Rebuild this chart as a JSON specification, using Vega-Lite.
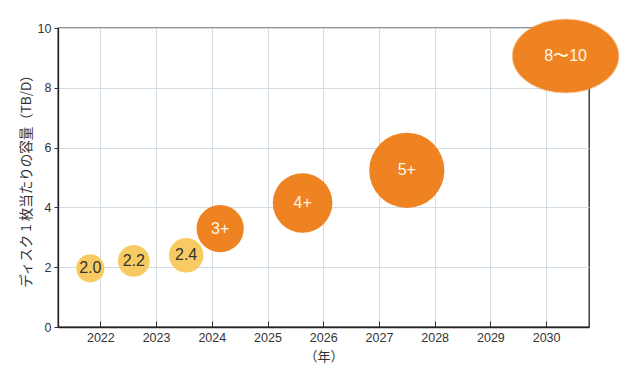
{
  "$schema": "https://vega.github.io/schema/vega-lite/v6.json",
  "autosize": "none",
  "width": 531,
  "height": 299,
  "padding": {"left": 58, "top": 28, "right": 49, "bottom": 59},
  "background": "white",
  "config": {
    "view": {"stroke": "#222", "strokeWidth": 1.3},
    "font": "Liberation Sans"
  },
  "data": {
    "values": [
      {"year": 2021.82, "capacity": 1.96, "label": "2.0", "phase": "current"},
      {"year": 2022.60, "capacity": 2.21, "label": "2.2", "phase": "current"},
      {"year": 2023.54, "capacity": 2.40, "label": "2.4", "phase": "current"},
      {"year": 2024.15, "capacity": 3.29, "label": "3+", "phase": "future"},
      {"year": 2025.63, "capacity": 4.15, "label": "4+", "phase": "future"},
      {"year": 2027.50, "capacity": 5.24, "label": "5+", "phase": "future"},
      {"year": 2030.35, "capacity": 9.06, "label": "8〜10", "phase": "range"}
    ]
  },
  "encoding": {
    "x": {
      "field": "year", "type": "quantitative",
      "scale": {"domain": [2021.24, 2030.77], "nice": false, "zero": false},
      "axis": {
        "values": [2022, 2023, 2024, 2025, 2026, 2027, 2028, 2029, 2030],
        "format": "d",
        "title": "（年）",
        "titleFont": "Noto Sans CJK JP",
        "titleFontWeight": "normal",
        "titleFontSize": 13,
        "titleColor": "#333",
        "titlePadding": 7,
        "labelFontSize": 12.5,
        "labelColor": "#333",
        "labelPadding": 10,
        "tickSize": -6,
        "tickColor": "#333",
        "domainColor": "#222",
        "domainWidth": 1.3,
        "gridColor": "#d3dbe3",
        "gridWidth": 1
      }
    },
    "y": {
      "field": "capacity", "type": "quantitative",
      "scale": {"domain": [0, 10], "nice": false},
      "axis": {
        "values": [0, 2, 4, 6, 8, 10],
        "title": "ディスク 1 枚当たりの容量（TB/D）",
        "titleFont": "Noto Sans CJK JP",
        "titleFontWeight": "normal",
        "titleFontSize": 13.5,
        "titleColor": "#333",
        "titlePadding": 4,
        "labelFontSize": 12.5,
        "labelColor": "#333",
        "labelPadding": 3,
        "tickSize": 4,
        "tickColor": "#333",
        "domainColor": "#222",
        "domainWidth": 1.3,
        "gridColor": "#d3dbe3",
        "gridWidth": 1
      }
    }
  },
  "layer": [
    {
      "transform": [{"filter": "datum.phase !== 'range'"}],
      "mark": {"type": "point", "shape": "circle", "filled": true, "opacity": 1, "strokeWidth": 2, "strokeOpacity": 0.35, "clip": false},
      "encoding": {
        "size": {"field": "capacity", "type": "quantitative", "scale": {"type": "pow", "exponent": 2, "domain": [0, 10], "range": [0, 20600]}, "legend": null},
        "color": {"field": "phase", "type": "nominal", "scale": {"domain": ["current", "future", "range"], "range": ["#F8CB62", "#EF8322", "#EF8322"]}, "legend": null}
      }
    },
    {
      "transform": [{"filter": "datum.phase === 'range'"}],
      "mark": {"type": "point", "shape": "M -1 0 A 1 0.69 0 1 1 1 0 A 1 0.69 0 1 1 -1 0 Z", "size": 11200, "filled": true, "opacity": 1, "color": "#EF8322", "stroke": "#EF8322", "strokeWidth": 2, "strokeOpacity": 0.35, "clip": false},
      "encoding": {}
    },
    {
      "mark": {"type": "text", "fontSize": 16, "baseline": "middle", "align": "center", "clip": false},
      "encoding": {
        "text": {"field": "label"},
        "color": {"field": "phase", "type": "nominal", "scale": {"domain": ["current", "future", "range"], "range": ["#333333", "#FFF6E6", "#FFF6E6"]}, "legend": null}
      }
    }
  ],
  "resolve": {"scale": {"color": "independent"}}
}
